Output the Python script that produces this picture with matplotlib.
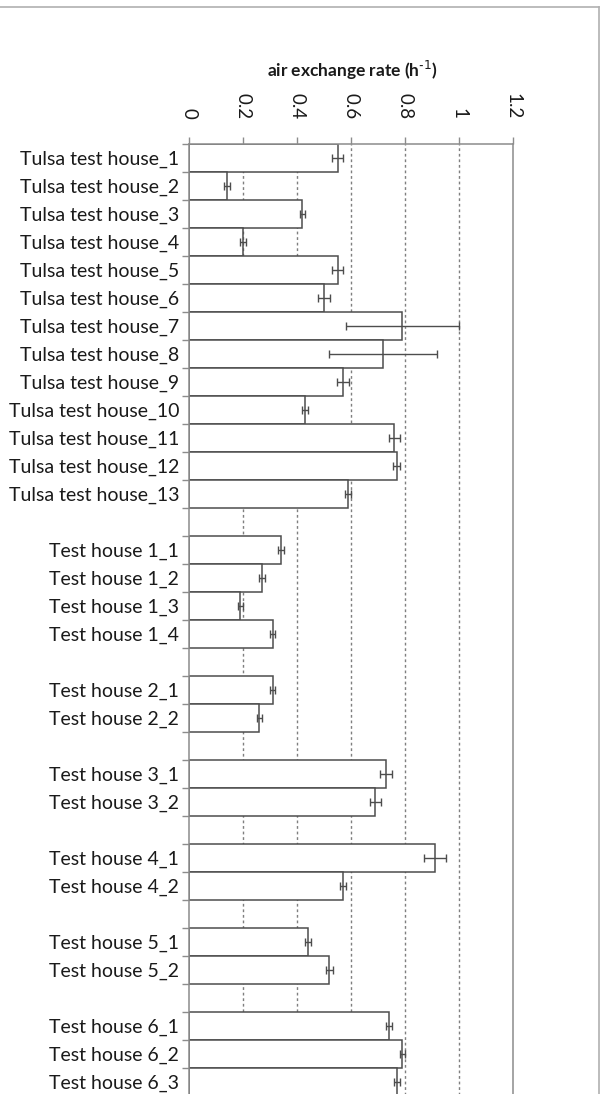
import numpy as np
import matplotlib.pyplot as plt
from matplotlib.lines import Line2D

# Tulsa test houses
tulsa_names = ["Tulsa test house_%d" % i for i in range(1, 14)]
tulsa_rate = [0.55, 0.14, 0.42, 0.20, 0.55, 0.50, 0.79, 0.72, 0.57, 0.43,
              0.76, 0.77, 0.59]
tulsa_err = [0.02, 0.01, 0.01, 0.01, 0.022, 0.023, 0.21, 0.20, 0.021, 0.012,
             0.021, 0.013, 0.011]

# other test houses, one list per house
house_names = [["Test house 1_1", "Test house 1_2", "Test house 1_3", "Test house 1_4"],
               ["Test house 2_1", "Test house 2_2"],
               ["Test house 3_1", "Test house 3_2"],
               ["Test house 4_1", "Test house 4_2"],
               ["Test house 5_1", "Test house 5_2"],
               ["Test house 6_1", "Test house 6_2", "Test house 6_3"]]
house_rate = [[0.34, 0.27, 0.19, 0.31],
              [0.31, 0.26],
              [0.73, 0.69],
              [0.91, 0.57],
              [0.44, 0.52],
              [0.74, 0.79, 0.77]]
house_err = [[0.012, 0.01, 0.01, 0.01],
             [0.01, 0.01],
             [0.022, 0.021],
             [0.04, 0.012],
             [0.012, 0.013],
             [0.012, 0.01, 0.01]]

xticks = [0, 0.2, 0.4, 0.6, 0.8, 1.0, 1.2]
xtick_labels = ["0", "0.2", "0.4", "0.6", "0.8", "1", "1.2"]

# stack groups with an empty row between them
names, rate, err = list(tulsa_names), list(tulsa_rate), list(tulsa_err)
for n, r, e in zip(house_names, house_rate, house_err):
    names += [""] + n
    rate += [np.nan] + r
    err += [np.nan] + e
pos = np.arange(len(names))
has_bar = ~np.isnan(rate)

plt.rcParams['font.family'] = ['Lato', 'DejaVu Sans']
W, H = 609, 1094
fig = plt.figure(figsize=(W / 100, H / 100), dpi=100)
ax = fig.add_axes([189 / W, 1 - (144 + 28 * len(names)) / H, 324 / W, 28 * len(names) / H])

gray = "#8c8c8c"
dark = "#4d4d4d"
for x in xticks[1:-1]:
    ax.axvline(x, color="#7f7f7f", lw=1, ls=(0, (2, 2)), zorder=0)

ax.barh(pos[has_bar], np.array(rate)[has_bar], height=1.0, color="white",
        edgecolor=dark, lw=1.1, zorder=2)
ax.errorbar(np.array(rate)[has_bar], pos[has_bar], xerr=np.array(err)[has_bar],
            fmt="none", ecolor=dark, elinewidth=1, capsize=3, capthick=1, zorder=3)

ax.set_xlim(0, 1.2)
ax.set_ylim(len(names) - 0.5, -0.5)
ax.xaxis.tick_top()
ax.set_xticks(xticks)
ax.set_xticklabels(xtick_labels, rotation=-90, fontsize=13.5, color="#1a1a1a")
ax.tick_params(axis="x", length=5, width=1, color=gray, pad=13)

ax.set_yticks(pos)
ax.set_yticklabels(names, fontsize=14, color="#1a1a1a")
ax.set_yticks(np.arange(len(names) + 1) - 0.5, minor=True)
ax.tick_params(axis="y", which="major", length=0, pad=7)
ax.tick_params(axis="y", which="minor", length=5, width=1, color=gray)

for side in ["top", "left", "right"]:
    ax.spines[side].set_color(gray)
    ax.spines[side].set_linewidth(1.1)
ax.spines["bottom"].set_visible(False)

fig.text(352 / W, 1 - 70 / H, "air exchange rate (h$^{\\mathregular{\u2010}1}$)",
         ha="center", va="center", fontsize=12.5, fontweight="bold", color="#1a1a1a")

# outer chart border
fig.add_artist(Line2D([0, 599 / W], [1 - 7 / H, 1 - 7 / H], color="#b0b0b0", lw=1.2))
fig.add_artist(Line2D([599 / W, 599 / W], [0, 1 - 7 / H], color="#b0b0b0", lw=1.2))

fig.savefig("out.png", dpi=100)
